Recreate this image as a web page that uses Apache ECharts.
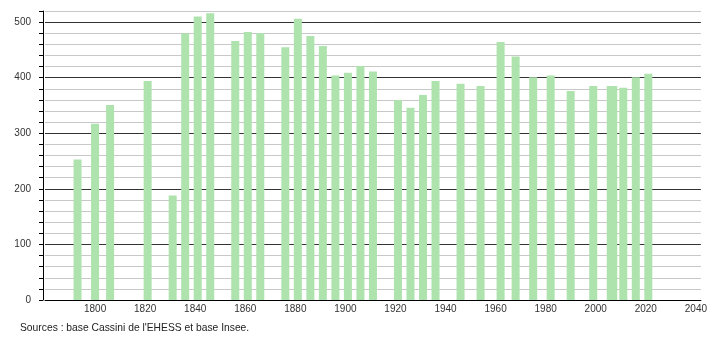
<!DOCTYPE html>
<html>
<head>
<meta charset="utf-8">
<script src="https://cdn.jsdelivr.net/npm/echarts@6/dist/echarts.min.js"></script>
<style>
html,body{margin:0;padding:0;background:#fff;}
#chart{width:710px;height:340px;}
</style>
</head>
<body>
<div id="chart"></div>
<script>
const years = [1793,1800,1806,1821,1831,1836,1841,1846,1856,1861,1866,1876,1881,1886,1891,1896,1901,1906,1911,1921,1926,1931,1936,1946,1954,1962,1968,1975,1982,1990,1999,2006,2007,2011,2016,2021];
const population = [253,317,351,394,188,480,510,516,466,482,480,455,506,475,457,404,409,421,411,360,346,369,394,389,385,464,438,401,404,376,385,385,385,382,401,407];
const sourceText = "Sources : base Cassini de l'EHESS et base Insee.";

const chart = echarts.init(document.getElementById('chart'), null, {renderer:'canvas'});
const font = 'Liberation Sans, Arial, sans-serif';
chart.setOption({
  animation: false,
  backgroundColor: '#fff',
  grid: {left: 45, right: 9, top: 11, bottom: 40, containLabel: false},
  xAxis: {
    type: 'value', min: 1780, max: 2042, interval: 20,
    axisLine: {show: true, lineStyle: {color: '#000', width: 1}},
    axisTick: {show: false},
    splitLine: {show: false},
    axisLabel: {
      color: '#333', fontSize: 10, fontFamily: font, margin: 4,
      formatter: v => (v % 20 === 0 && v > 1780) ? String(v) : ''
    }
  },
  yAxis: {
    type: 'value', min: 0, max: 520, interval: 20, offset: 2,
    axisLine: {show: true, lineStyle: {color: '#000', width: 1}},
    axisTick: {show: true, inside: false, length: 4, lineStyle: {color: '#000'}},
    splitLine: {show: true, lineStyle: {color: ['#333','#c8c8c8','#c8c8c8','#c8c8c8','#c8c8c8'], width: 1}},
    axisLabel: {
      color: '#333', fontSize: 10, fontFamily: font, margin: 12,
      formatter: v => (v % 100 === 0) ? String(v) : ''
    }
  },
  series: [{
    type: 'bar',
    barWidth: 8,
    itemStyle: {color: '#aee3ae'},
    data: years.map((y, i) => [y, population[i]])
  }],
  graphic: [{
    type: 'text', left: 20, top: 323,
    style: {text: sourceText, fill: '#222', font: '10.3px ' + font}
  }]
});
</script>
</body>
</html>
